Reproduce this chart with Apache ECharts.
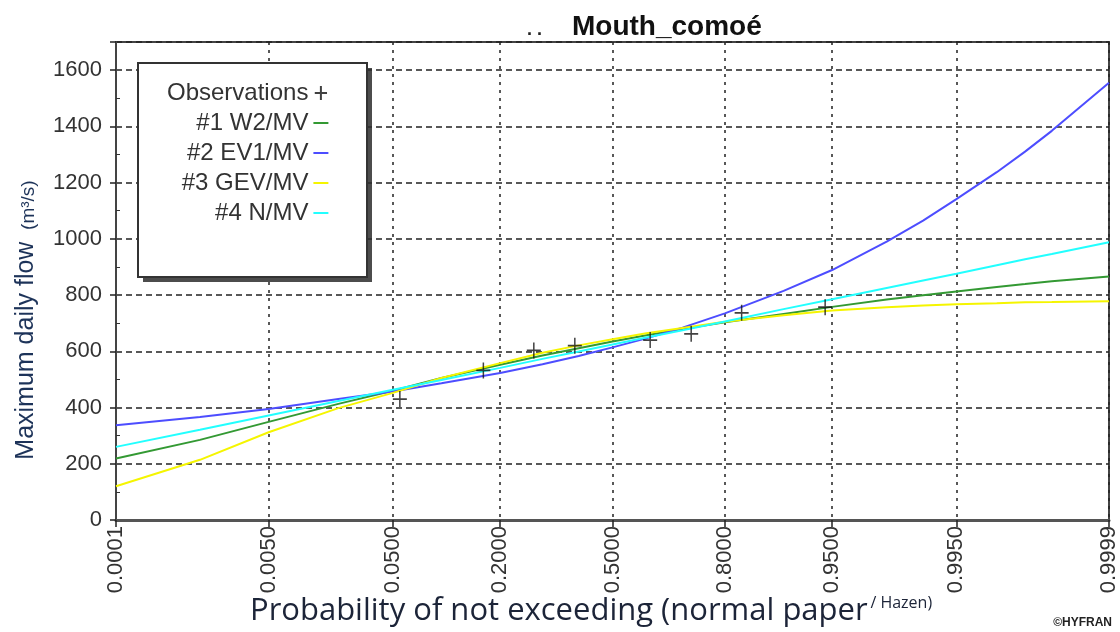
<!DOCTYPE html>
<html><head><meta charset="utf-8">
<script src="https://cdn.jsdelivr.net/npm/echarts@6/dist/echarts.min.js"></script>
<style>html,body{margin:0;padding:0;background:#fff}#c{width:1120px;height:632px}</style>
</head><body><div id="c"></div>
<script>
// ---- data ----
const tickProbs = [0.0001, 0.005, 0.05, 0.2, 0.5, 0.8, 0.95, 0.995, 0.9999];
const tickLabels = ['0.0001','0.0050','0.0500','0.2000','0.5000','0.8000','0.9500','0.9950','0.9999'];
const yTicks = [0, 200, 400, 600, 800, 1000, 1200, 1400, 1600];

const obsProb = [0.0556, 0.1667, 0.2778, 0.3889, 0.6111, 0.7222, 0.8333, 0.9444];
const obsFlow = [430, 532, 603, 620, 640, 662, 737, 757];

const curveProb = [0.0001, 0.001, 0.005, 0.02, 0.05, 0.1, 0.2, 0.3, 0.4, 0.5, 0.6, 0.7, 0.8, 0.9, 0.95, 0.98, 0.99, 0.995, 0.998, 0.999, 0.9995, 0.9999];
const w2Flow  = [219, 285, 349, 413, 460, 505, 552, 585, 611, 635, 657, 679, 703, 733, 758, 784, 799, 813, 829, 839, 849, 866];
const ev1Flow = [337, 366, 395, 430, 457, 486, 523, 554, 583, 614, 646, 684, 735, 815, 889, 990, 1065, 1141, 1237, 1310, 1384, 1555];
const gevFlow = [120, 214, 312, 398, 452, 505, 558, 595, 621, 643, 664, 683, 705, 728, 745, 757, 763, 767, 771, 774, 775, 778];
const nFlow   = [260, 321, 372, 423, 463, 498, 541, 573, 599, 624, 649, 675, 706, 750, 785, 825, 852, 876, 906, 927, 946, 988];

const seriesNames = ['Observations', '#1 W2/MV', '#2 EV1/MV', '#3 GEV/MV', '#4 N/MV'];
const seriesColors = ['#111111', '#339933', '#4d4dff', '#f5f500', '#22ffff'];

// ---- normal paper transform (probability -> standard normal quantile) ----
function invNorm(p) {
  const a = [-3.969683028665376e+01, 2.209460984245205e+02, -2.759285104469687e+02, 1.383577518672690e+02, -3.066479806614716e+01, 2.506628277459239e+00];
  const b = [-5.447609879822406e+01, 1.615858368580409e+02, -1.556989798598866e+02, 6.680131188771972e+01, -1.328068155288572e+01];
  const c = [-7.784894002430293e-03, -3.223964580411365e-01, -2.400758277161838e+00, -2.549732539343734e+00, 4.374664141464968e+00, 2.938163982698783e+00];
  const d = [7.784695709041462e-03, 3.224671290700398e-01, 2.445134137142996e+00, 3.754408661907416e+00];
  const pl = 0.02425, ph = 1 - pl;
  let q, r;
  if (p < pl) { q = Math.sqrt(-2 * Math.log(p)); return (((((c[0]*q+c[1])*q+c[2])*q+c[3])*q+c[4])*q+c[5]) / ((((d[0]*q+d[1])*q+d[2])*q+d[3])*q+1); }
  if (p <= ph) { q = p - 0.5; r = q*q; return (((((a[0]*r+a[1])*r+a[2])*r+a[3])*r+a[4])*r+a[5])*q / (((((b[0]*r+b[1])*r+b[2])*r+b[3])*r+b[4])*r+1); }
  q = Math.sqrt(-2 * Math.log(1 - p)); return -(((((c[0]*q+c[1])*q+c[2])*q+c[3])*q+c[4])*q+c[5]) / ((((d[0]*q+d[1])*q+d[2])*q+d[3])*q+1);
}
const tickZ = tickProbs.map(invNorm);
const pairs = (ps, vs) => ps.map((p, i) => [invNorm(p), vs[i]]);

const curveFlows = [w2Flow, ev1Flow, gevFlow, nFlow];

const chart = echarts.init(document.getElementById('c'), null, {renderer: 'canvas'});
const plusPath = 'path://M0,8 L14,8 M7,0 L7,16';
const lineIcon = 'path://M0,0 L15,0 L15,2 L0,2 Z';

const series = [];
curveFlows.forEach((arr, i) => {
  series.push({
    name: seriesNames[i + 1], type: 'line', data: pairs(curveProb, arr),
    symbol: 'none', smooth: false,
    lineStyle: {color: seriesColors[i + 1], width: 2}, itemStyle: {color: seriesColors[i + 1]},
    z: 3
  });
});
series.push({
  name: seriesNames[0], type: 'scatter', data: pairs(obsProb, obsFlow),
  symbol: plusPath, symbolSize: [14, 16],
  itemStyle: {color: 'rgba(0,0,0,0)', borderColor: '#111', borderWidth: 1.6},
  z: 5
});

chart.setOption({
  backgroundColor: '#fff',
  animation: false,
  grid: {left: 116, right: 10, top: 42, bottom: 112, show: true, borderColor: '#444', borderWidth: 2, backgroundColor: 'transparent'},
  xAxis: {
    type: 'value', min: tickZ[0], max: tickZ[tickZ.length - 1],
    axisLine: {show: true, onZero: false, lineStyle: {color: '#555', width: 3}},
    axisTick: {show: true, customValues: tickZ, length: 7, lineStyle: {color: '#222', width: 1.5}},
    axisLabel: {
      customValues: tickZ, rotate: 90, margin: 6, fontSize: 22, color: '#333', fontFamily: 'Liberation Sans',
      formatter: function (v) {
        let best = 0, bd = 1e9;
        tickZ.forEach((z, i) => { const d = Math.abs(z - v); if (d < bd) { bd = d; best = i; } });
        return tickLabels[best];
      }
    },
    splitLine: {show: true, lineStyle: {color: '#222', type: [3, 5], width: 1.5}}
  },
  yAxis: {
    type: 'value', min: 0, max: 1700, interval: 200,
    axisLine: {show: true, onZero: false, lineStyle: {color: '#444', width: 2}},
    axisTick: {show: true, length: 6, lineStyle: {color: '#222', width: 1.5}},
    minorTick: {show: true, splitNumber: 2, length: -4, lineStyle: {color: '#333', width: 1}},
    axisLabel: {
      fontSize: 22, color: '#333', fontFamily: 'Liberation Sans', margin: 14, showMaxLabel: false,
      formatter: v => (yTicks.indexOf(v) >= 0 ? String(v) : '')
    },
    splitLine: {show: true, lineStyle: {color: '#222', type: [6, 4], width: 1.5}}
  },
  legend: {
    data: seriesNames.map((n, i) => ({name: n, icon: i === 0 ? plusPath : lineIcon})),
    orient: 'vertical', align: 'right', symbolKeepAspect: true,
    left: 167, top: 81, padding: 0, z: 11,
    itemWidth: 15, itemHeight: 14, itemGap: 6,
    textStyle: {fontSize: 24, lineHeight: 24, color: '#333', fontFamily: 'Liberation Sans'},
    selectedMode: false
  },
  graphic: [
    {type: 'rect', z: 9, shape: {x: 143, y: 68, width: 229, height: 214},
      style: {fill: 'rgba(45,45,45,0.85)'}},
    {type: 'rect', z: 10, shape: {x: 138, y: 63, width: 229, height: 214},
      style: {fill: '#fff', stroke: '#333', lineWidth: 2}},
    {type: 'text', z: 10, x: 527, y: 30, style: {
      text: '. .', fontSize: 18, fontWeight: 'bold', fill: '#222', fontFamily: 'Liberation Sans', verticalAlign: 'middle'
    }},
    {type: 'text', z: 10, x: 572, y: 27, style: {
      text: 'Mouth_comoé', fontSize: 28, fontWeight: 'bold', fill: '#111', fontFamily: 'Liberation Sans', verticalAlign: 'middle'
    }},
    {type: 'text', z: 10, x: 26, y: 320, rotation: Math.PI / 2, style: {
      text: '{a|Maximum daily flow}{s|   }{b|(m³/s)}', align: 'center', verticalAlign: 'middle',
      rich: {
        a: {fontSize: 25, fill: '#1d3359', fontFamily: 'Liberation Sans'},
        s: {fontSize: 14},
        b: {fontSize: 19, fill: '#1d3359', fontFamily: 'Liberation Sans', verticalAlign: 'bottom'}
      }
    }},
    {type: 'text', z: 10, x: 250, y: 611, style: {
      text: '{a|Probability of not exceeding (normal paper}{s| }{b|/ Hazen)}', verticalAlign: 'middle',
      rich: {
        a: {fontSize: 31, fill: '#1c2438', fontFamily: 'Open Sans'},
        s: {fontSize: 10},
        b: {fontSize: 16, fill: '#1c2438', fontFamily: 'Open Sans', verticalAlign: 'top'}
      }
    }},
    {type: 'text', z: 10, right: 8, top: 617, style: {
      text: '©HYFRAN', fontSize: 12, fontWeight: 'bold', fill: '#222', fontFamily: 'Liberation Sans'
    }}
  ],
  series: series
});
</script>
</body></html>
